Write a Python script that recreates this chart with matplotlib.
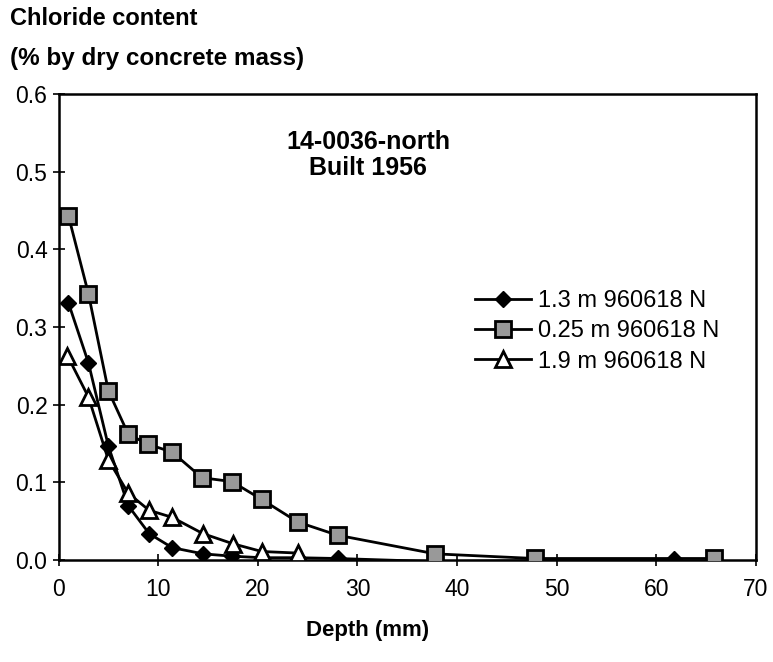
import numpy as np
import matplotlib.pyplot as plt
from matplotlib.ticker import FormatStrFormatter

plt.rcParams['font.family'] = ['Liberation Sans', 'DejaVu Sans']

# 1.3 m 960618 N
depth_a = [1, 3, 5, 7, 9.1, 11.4, 14.5, 17.4, 20.4, 24, 28, 37.8, 61.8]
cl_a = [0.331, 0.254, 0.147, 0.070, 0.034, 0.016, 0.008, 0.005, 0.003, 0.003, 0.002, -0.002, 0.001]
# 0.25 m 960618 N
depth_b = [1, 3, 5, 7, 9, 11.4, 14.4, 17.4, 20.4, 24, 28, 37.8, 47.8, 65.8]
cl_b = [0.443, 0.343, 0.218, 0.162, 0.149, 0.139, 0.106, 0.101, 0.078, 0.049, 0.032, 0.008, 0.002, 0.002]
# 1.9 m 960618 N
depth_c = [0.9, 3, 5, 7, 9.1, 11.4, 14.5, 17.5, 20.4, 24]
cl_c = [0.263, 0.210, 0.129, 0.086, 0.064, 0.055, 0.034, 0.021, 0.011, 0.009]

labels = ['1.3 m 960618 N', '0.25 m 960618 N', '1.9 m 960618 N']

fig = plt.figure(figsize=(7.73, 6.62), dpi=100)
ax = fig.add_axes([0.0757, 0.154, 0.9023, 0.704])

ax.plot(depth_a, cl_a, color='black', lw=2, marker='D', ms=8.5,
        mfc='black', mec='black', label=labels[0], zorder=3)
ax.plot(depth_b, cl_b, color='black', lw=2, marker='s', ms=11,
        mfc='#999999', mec='black', mew=2, label=labels[1], zorder=4)
ax.plot(depth_c, cl_c, color='black', lw=2, marker='^', ms=11,
        mfc='white', mec='black', mew=2, label=labels[2], zorder=3)

ax.set_xlim(0, 70)
ax.set_ylim(0, 0.6)
ax.set_xticks(np.arange(0, 71, 10))
ax.set_yticks(np.arange(0, 0.61, 0.1))
ax.yaxis.set_major_formatter(FormatStrFormatter('%.1f'))
ax.tick_params(direction='inout', length=8, width=1.2, labelsize=16.5, pad=4)
ax.tick_params(axis='x', pad=9)
for s in ax.spines.values():
    s.set_linewidth(1.8)

ax.text(0.444, 0.87, '14-0036-north\nBuilt 1956', transform=ax.transAxes,
        ha='center', va='center', fontsize=18, fontweight='bold', linespacing=1.1)

ax.legend(loc='upper left', bbox_to_anchor=(0.566, 0.625), frameon=False,
          fontsize=17, handlelength=2.4, handletextpad=0.3, labelspacing=0.35)

fig.text(0.013, 0.972, 'Chloride content', ha='left', va='center',
         fontsize=17, fontweight='bold')
fig.text(0.013, 0.912, '(% by dry concrete mass)', ha='left', va='center',
         fontsize=17.5, fontweight='bold')
fig.text(0.476, 0.047, 'Depth (mm)', ha='center', va='center',
         fontsize=16, fontweight='bold')

plt.savefig('out.png', dpi=100)
